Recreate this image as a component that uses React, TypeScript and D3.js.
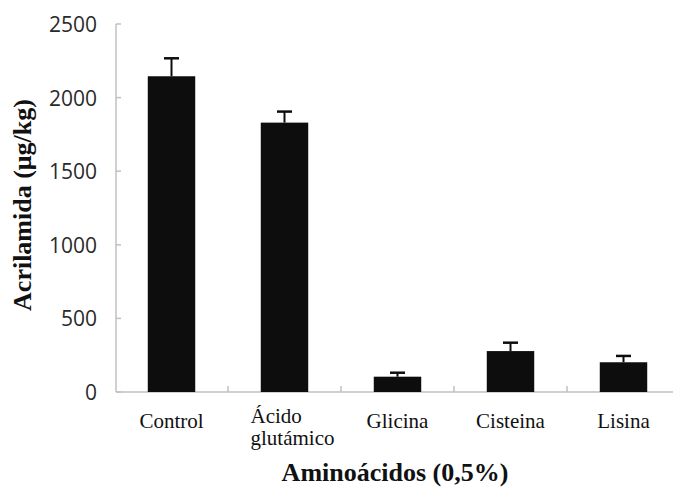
import React from "react";
import * as d3 from "d3";

const categories: string[][] = [["Control"], ["Ácido", "glutámico"], ["Glicina"], ["Cisteina"], ["Lisina"]];
const values: number[] = [2145, 1830, 104, 278, 202];
const errors: number[] = [122, 75, 27, 57, 43];
const yTicks: number[] = [0, 500, 1000, 1500, 2000, 2500];
const yLabel = "Acrilamida (μg/kg)";
const xLabel = "Aminoácidos (0,5%)";

const W = 673;
const H = 488;

export default function App() {
  const keys = categories.map((c) => c.join(" "));
  const x = d3.scaleBand<string>().domain(keys).range([115, 680]).paddingInner(0.58).paddingOuter(0.29);
  const band = d3.scaleBand<string>().domain(keys).range([115, 680]).padding(0);
  const y = d3.scaleLinear().domain([0, 2500]).range([392, 24]);
  const serif = "'Liberation Serif', 'Times New Roman', serif";
  const sans = "'Open Sans', 'DejaVu Sans', sans-serif";
  const axisColor = "#c0c0c0";

  return (
    <svg width={W} height={H} style={{ position: "absolute", left: 0, top: 0, background: "#fff" }}>
      {/* y axis */}
      <line x1={116} x2={116} y1={y(2500)} y2={y(0)} stroke={axisColor} strokeWidth={1.5} />
      {yTicks.map((t) => (
        <g key={t}>
          <line x1={116} x2={121} y1={y(t)} y2={y(t)} stroke={axisColor} strokeWidth={1.5} />
          <text x={97} y={y(t)} textAnchor="end" dominantBaseline="central" fontFamily={sans} fontSize={21} fill="#2a2a2a">
            {t}
          </text>
        </g>
      ))}
      {/* x axis */}
      <line x1={116} x2={W} y1={y(0)} y2={y(0)} stroke={axisColor} strokeWidth={1.5} />
      {keys.slice(1).map((k) => (
        <line key={k} x1={band(k)!} x2={band(k)!} y1={y(0)} y2={y(0) - 6} stroke={axisColor} strokeWidth={1.5} />
      ))}
      {/* bars */}
      {keys.map((k, i) => {
        const cx = x(k)! + x.bandwidth() / 2;
        return (
          <g key={k}>
            <rect x={x(k)!} y={y(values[i])} width={x.bandwidth()} height={y(0) - y(values[i])} fill="#0d0d0d" />
            <line x1={cx} x2={cx} y1={y(values[i])} y2={y(values[i] + errors[i])} stroke="#0d0d0d" strokeWidth={2} />
            <line x1={cx - 7.5} x2={cx + 7.5} y1={y(values[i] + errors[i])} y2={y(values[i] + errors[i])} stroke="#0d0d0d" strokeWidth={2.5} />
          </g>
        );
      })}
      {/* category labels */}
      {categories.map((c, i) => {
        const cx = band(keys[i])! + band.bandwidth() / 2;
        if (c.length > 1) {
          return (
            <text key={keys[i]} x={cx - 34} y={423} fontFamily={serif} fontSize={21} fill="#111">
              {c.map((line, j) => (
                <tspan key={j} x={cx - 34} y={423 + j * 22}>
                  {line}
                </tspan>
              ))}
            </text>
          );
        }
        return (
          <text key={keys[i]} x={cx} y={428} textAnchor="middle" fontFamily={serif} fontSize={21} fill="#111">
            {c[0]}
          </text>
        );
      })}
      {/* axis titles */}
      <text x={395} y={481} textAnchor="middle" fontFamily={serif} fontWeight="bold" fontSize={26} fill="#111">
        {xLabel}
      </text>
      <text
        transform={`translate(31,205) rotate(-90)`}
        textAnchor="middle"
        fontFamily={serif}
        fontWeight="bold"
        fontSize={26}
        fill="#111"
      >
        {yLabel}
      </text>
    </svg>
  );
}
